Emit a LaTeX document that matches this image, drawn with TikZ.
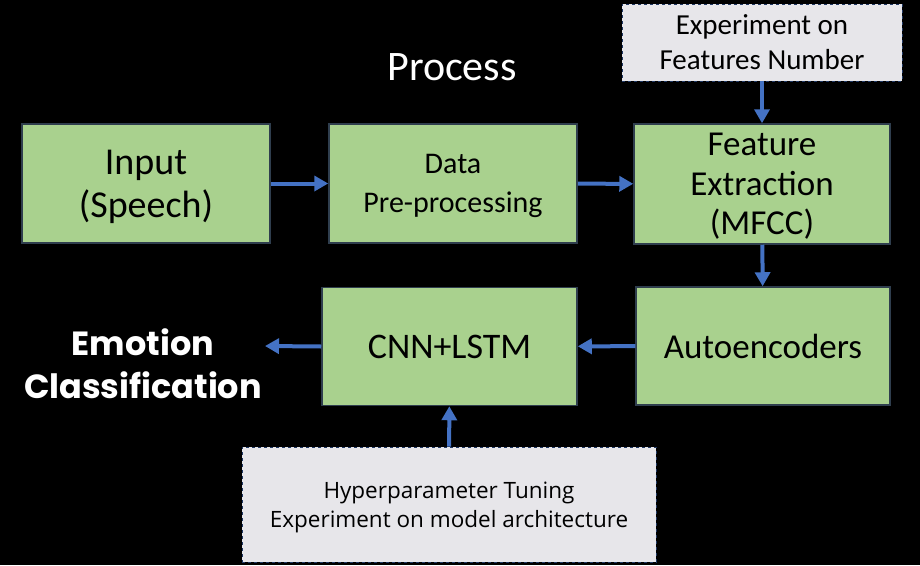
\documentclass[tikz,border=0pt]{standalone}
\usepackage{fontspec}
\setmainfont{Carlito}
\newfontfamily\emofont{Poppins}
\newfontfamily\tunefont{Open Sans}
\usetikzlibrary{arrows.meta}
\definecolor{boxgreen}{HTML}{A9D18E}
\definecolor{boxline}{HTML}{2F3E4E}
\definecolor{notegray}{HTML}{E7E6EA}
\definecolor{noteline}{HTML}{203864}
\definecolor{arrowblue}{HTML}{4472C4}
\begin{document}
\begin{tikzpicture}[x=1pt, y=-1pt,
  stage/.style={draw=boxline, line width=1.5pt, fill=boxgreen, align=center, inner sep=0pt},
  note/.style={draw=noteline, dashed, line width=0.9pt, fill=notegray, align=center, inner sep=0pt},
  flow/.style={draw=arrowblue, line width=4pt, -{Triangle[length=14pt, width=15pt]}}]
\fill[black] (0,0) rectangle (920,565);
\useasboundingbox (0,0) rectangle (920,565);
\node[white, font=\fontsize{42}{40}\selectfont] (proc) at (452,67){Process};
\node[stage, minimum width=248pt, minimum height=119pt, text depth=-3pt, font=\fontsize{38}{43}\selectfont] (inp) at (146,183.5){Input\\(Speech)};
\node[stage, minimum width=248pt, minimum height=119pt, text depth=-6pt, font=\fontsize{30}{39}\selectfont] (pre) at (453,183.5){Data\\Pre-processing};
\node[stage, minimum width=256pt, minimum height=120pt, text depth=-5pt, font=\fontsize{35}{39.5}\selectfont] (feat) at (762,184){Feature\\Extraction\\(MFCC)};
\node[note, minimum width=280pt, minimum height=77pt, text depth=-5pt, font=\fontsize{29}{35}\selectfont] (exp) at (762,42.5){Experiment on\\Features Number};
\node[stage, minimum width=254pt, minimum height=118pt, font=\fontsize{35}{34}\selectfont] (auto) at (763,346){Autoencoders};
\node[stage, minimum width=255pt, minimum height=118pt, font=\fontsize{36}{34}\selectfont] (cnn) at (449.5,346.5){CNN+LSTM};
\node[note, minimum width=414pt, minimum height=115pt, text depth=-9pt, font=\tunefont\fontsize{22.5}{29}\selectfont] (tune) at (449,504.5){Hyperparameter Tuning\\Experiment on model architecture};
\node[white, align=center, font=\emofont\bfseries\fontsize{33.5}{43}\selectfont] (emo) at (143,364){Emotion\\Classification};
\coordinate (emoin) at (265,346);
\draw[flow] (inp) -- (pre);
\draw[flow] (pre) -- (feat);
\draw[flow] (exp) -- (feat);
\draw[flow] (feat) -- (auto);
\draw[flow] (auto) -- (cnn);
\draw[flow] (cnn.west) -- (emoin);
\draw[flow] (tune) -- (cnn);
\end{tikzpicture}
\end{document}
